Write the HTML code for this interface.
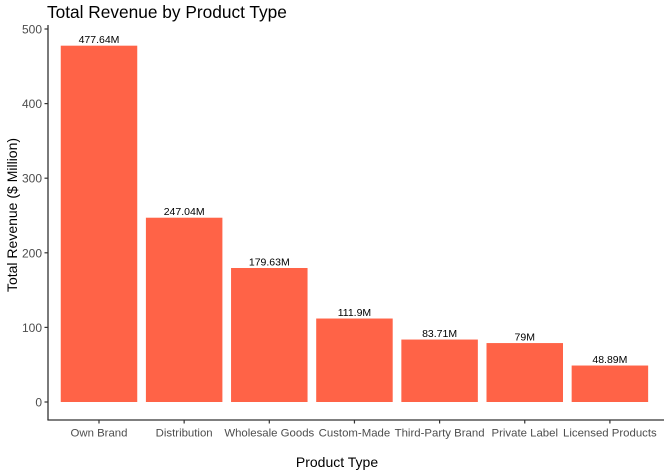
<!DOCTYPE html>
<html><head><meta charset="utf-8"><style>
body{margin:0;background:#fff;}
svg{display:block;font-family:"Liberation Sans",Arial,sans-serif;}
</style></head><body>
<svg id="c" width="670" height="471">
<text x="47" y="18" font-size="17.3" fill="#000">Total Revenue by Product Type</text>
<text x="337" y="467" font-size="14" text-anchor="middle" fill="#000">Product Type</text>
<text transform="translate(17,215) rotate(-90)" font-size="14" text-anchor="middle" fill="#000">Total Revenue ($ Million)</text>
<g id="bars"></g>
<line x1="48" y1="25" x2="48" y2="420" stroke="#333" stroke-width="1.3"/>
<line x1="47.4" y1="420" x2="664" y2="420" stroke="#333" stroke-width="1.3"/>
</svg>
<script>
const categories=["Own Brand","Distribution","Wholesale Goods","Custom-Made","Third-Party Brand","Private Label","Licensed Products"];
const revenues=[477.64,247.04,179.63,111.9,83.71,79,48.89];
const valueLabels=["477.64M","247.04M","179.63M","111.9M","83.71M","79M","48.89M"];
const yTicks=[0,100,200,300,400,500];
const NS="http://www.w3.org/2000/svg";
const svg=document.getElementById('c');
const g=document.getElementById('bars');
const y=v=>402-v*(402-29)/500;
const x=i=>99+i*85.15;
const bw=76.5;
function mk(t,a,parent){const e=document.createElementNS(NS,t);for(const k in a)e.setAttribute(k,a[k]);(parent||svg).appendChild(e);return e;}
yTicks.forEach(t=>{
 const l=mk('line',{x1:44.5,x2:48,y1:y(t),y2:y(t),stroke:'#333','stroke-width':1.2});
 
 
 const tx=mk('text',{x:42,y:y(t)+4.5,'font-size':12,'text-anchor':'end',fill:'#4d4d4d'});
 tx.textContent=t;
 
 
});
categories.forEach((c,i)=>{
 const r=mk('rect',{x:x(i)-bw/2,y:y(revenues[i]),width:bw,height:y(0)-y(revenues[i]),fill:'#FF6347'},g);
 
 
 const v=mk('text',{x:x(i),y:y(revenues[i])-2.5,'font-size':10.5,'text-anchor':'middle',fill:'#000'});
 v.textContent=valueLabels[i];
 
 
 const tk=mk('line',{x1:x(i),x2:x(i),y1:420,y2:423.5,stroke:'#333','stroke-width':1.2});
 
 
 const t=mk('text',{x:x(i),y:436.5,'font-size':11.4,'text-anchor':'middle',fill:'#4d4d4d'});
 t.textContent=c;
 
 
});
</script>
</body></html>
